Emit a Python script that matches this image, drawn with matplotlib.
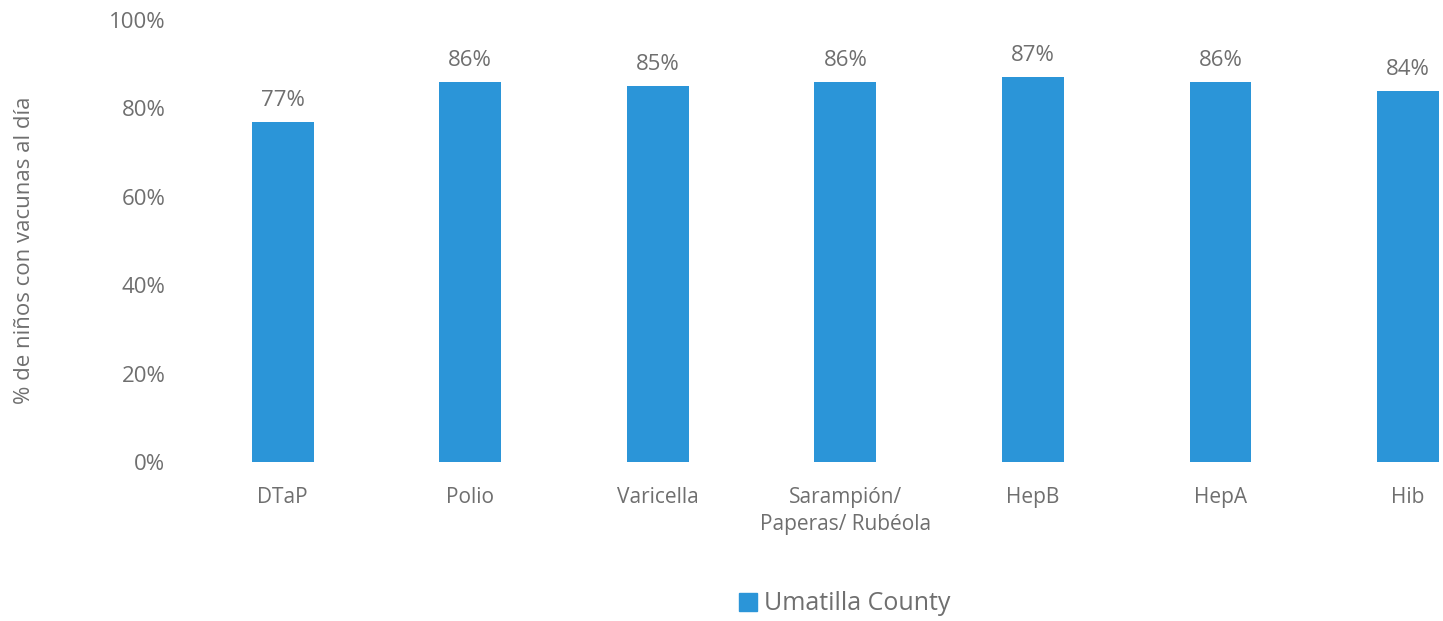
import matplotlib.pyplot as plt
from matplotlib.patches import Patch

# datos
categorias = ["DTaP", "Polio", "Varicella", "Sarampión/\nPaperas/ Rubéola", "HepB", "HepA", "Hib"]
valores = [77, 86, 85, 86, 87, 86, 84]
etiquetas = ["77%", "86%", "85%", "86%", "87%", "86%", "84%"]
yticks = [0, 20, 40, 60, 80, 100]
serie = "Umatilla County"

azul = "#2b95d8"
gris = "#6f6f6f"
plt.rcParams['font.family'] = ['Open Sans', 'DejaVu Sans']

fig = plt.figure(figsize=(14.43, 6.21), dpi=100)
ax = fig.add_axes([189/1443, 159/621, 1 - 189/1443, 442/621])

x = range(len(categorias))
ax.bar(x, valores, width=0.33, color=azul, zorder=2)
for xi, v, lab in zip(x, valores, etiquetas):
    ax.text(xi, v + 2.5, lab, ha="center", va="bottom", fontsize=16, color=gris)

ax.set_xlim(-0.5, (1443 - 283) / 187.5)
ax.set_ylim(0, 100)
ax.set_yticks(yticks)
ax.set_yticklabels([f"{t}%" for t in yticks], fontsize=16, color=gris)
ax.set_xticks(list(x))
ax.set_xticklabels(categorias, fontsize=15, color=gris, va="top", linespacing=1.4)
ax.tick_params(axis="x", length=0, pad=18)
ax.tick_params(axis="y", length=0, pad=17)
for s in ax.spines.values():
    s.set_visible(False)

fig.text(25 / 1443, 1 - 250 / 621, "% de niños con vacunas al día", rotation=90,
         ha="center", va="center", fontsize=16, color=gris)

fig.legend(handles=[Patch(color=azul, label=serie)], loc="center",
           bbox_to_anchor=(845 / 1443, 1 - 604 / 621), frameon=False,
           fontsize=18, labelcolor=gris, handlelength=0.7, handleheight=0.7,
           handletextpad=0.3)

fig.savefig("out.png", dpi=100)
